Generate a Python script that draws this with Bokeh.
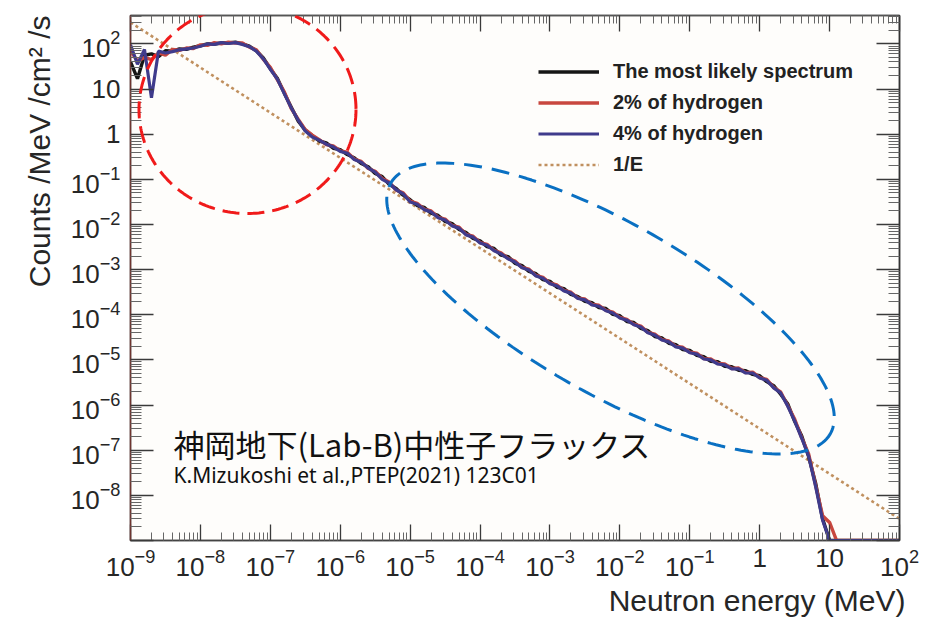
import numpy as np
from bokeh.plotting import figure
from bokeh.models import (Range1d, LogAxis, FixedTicker, Label, Legend, LegendItem,
                          PolyAnnotation, LogTickFormatter, Title)
from bokeh.embed import file_html
from bokeh.resources import INLINE

# ---------------- data ----------------
# bin centres, log10(E / MeV)
log10_energy = [
    -9.0, -8.9, -8.8, -8.7, -8.6, -8.5, -8.4, -8.3, -8.2, -8.1,
    -8.0, -7.9, -7.8, -7.7, -7.6, -7.5, -7.4, -7.3, -7.2, -7.1,
    -7.0, -6.9, -6.8, -6.7, -6.6, -6.5, -6.4, -6.3, -6.2, -6.1,
    -6.0, -5.9, -5.8, -5.7, -5.6, -5.5, -5.4, -5.3, -5.2, -5.1,
    -5.0, -4.9, -4.8, -4.7, -4.6, -4.5, -4.4, -4.3, -4.2, -4.1,
    -4.0, -3.9, -3.8, -3.7, -3.6, -3.5, -3.4, -3.3, -3.2, -3.1,
    -3.0, -2.9, -2.8, -2.7, -2.6, -2.5, -2.4, -2.3, -2.2, -2.1,
    -2.0, -1.9, -1.8, -1.7, -1.6, -1.5, -1.4, -1.3, -1.2, -1.1,
    -1.0, -0.9, -0.8, -0.7, -0.6, -0.5, -0.4, -0.3, -0.2, -0.1,
    0.0, 0.1, 0.2, 0.3, 0.4, 0.5, 0.6, 0.7, 0.8, 0.9,
    1.0, 1.1, 1.2, 1.3, 1.4, 1.5, 1.6, 1.7, 1.8, 1.9, 2.0,
]

# log10(flux / (MeV cm^2 s)); -9.0 marks empty bins drawn on the axis floor
log10_flux_likely = [
    1.60, 1.23, 1.75, 1.78, 1.72, 1.85, 1.84, 1.89, 1.88, 1.93,
    1.96, 2.00, 2.00, 2.02, 2.02, 2.04, 2.00, 1.95, 1.85, 1.69,
    1.45, 1.24, 0.91, 0.60, 0.29, 0.09, -0.03, -0.15, -0.19, -0.31,
    -0.34, -0.45, -0.52, -0.65, -0.72, -0.87, -0.94, -1.11, -1.20, -1.35,
    -1.45, -1.58, -1.62, -1.75, -1.80, -1.93, -1.98, -2.11, -2.18, -2.31,
    -2.36, -2.49, -2.53, -2.68, -2.71, -2.86, -2.91, -3.04, -3.09, -3.22,
    -3.26, -3.39, -3.42, -3.55, -3.60, -3.70, -3.73, -3.84, -3.86, -3.99,
    -4.02, -4.15, -4.17, -4.30, -4.35, -4.48, -4.51, -4.63, -4.66, -4.77,
    -4.79, -4.90, -4.93, -5.03, -5.04, -5.14, -5.15, -5.23, -5.24, -5.32,
    -5.35, -5.48, -5.57, -5.76, -5.97, -6.36, -6.68, -7.14, -7.73, -8.52,
    -9.0, -9.0, -9.0, -9.0, -9.0, -9.0, -9.0, -9.0, -9.0, -9.0, -9.0,
]

log10_flux_h2 = [
    1.85, 1.62, 1.70, 1.65, 1.80, 1.75, 1.88, 1.86, 1.91, 1.90,
    1.98, 1.97, 2.03, 2.00, 2.04, 2.02, 2.02, 1.93, 1.87, 1.66,
    1.48, 1.21, 0.94, 0.57, 0.33, 0.10, -0.02, -0.12, -0.23, -0.26,
    -0.37, -0.40, -0.55, -0.60, -0.76, -0.82, -0.98, -1.06, -1.24, -1.30,
    -1.48, -1.53, -1.66, -1.70, -1.84, -1.88, -2.02, -2.06, -2.22, -2.26,
    -2.40, -2.44, -2.57, -2.63, -2.75, -2.81, -2.95, -2.99, -3.13, -3.17,
    -3.30, -3.34, -3.46, -3.50, -3.63, -3.65, -3.77, -3.79, -3.90, -3.94,
    -4.06, -4.10, -4.21, -4.25, -4.39, -4.43, -4.55, -4.58, -4.70, -4.72,
    -4.83, -4.85, -4.97, -4.98, -5.08, -5.09, -5.19, -5.18, -5.28, -5.27,
    -5.39, -5.43, -5.61, -5.71, -6.01, -6.31, -6.72, -7.08, -7.78, -8.45,
    -8.6, -9.0, -9.0, -9.0, -9.0, -9.0, -9.0, -9.0, -9.0, -9.0, -9.0,
]

log10_flux_h4 = [
    1.98, 1.55, 1.88, 0.81, 1.84, 1.80, 1.83, 1.87, 1.89, 1.91,
    1.95, 2.00, 1.99, 2.03, 2.01, 2.03, 1.99, 1.94, 1.84, 1.67,
    1.44, 1.22, 0.90, 0.58, 0.31, 0.07, -0.06, -0.13, -0.22, -0.28,
    -0.38, -0.42, -0.56, -0.62, -0.75, -0.84, -1.00, -1.08, -1.23, -1.32,
    -1.50, -1.55, -1.67, -1.72, -1.85, -1.90, -2.03, -2.08, -2.23, -2.28,
    -2.41, -2.46, -2.58, -2.65, -2.76, -2.83, -2.96, -3.01, -3.14, -3.19,
    -3.31, -3.36, -3.47, -3.52, -3.64, -3.67, -3.78, -3.81, -3.91, -3.96,
    -4.07, -4.12, -4.22, -4.27, -4.40, -4.45, -4.56, -4.60, -4.71, -4.74,
    -4.84, -4.87, -4.98, -5.00, -5.09, -5.11, -5.20, -5.20, -5.29, -5.29,
    -5.40, -5.45, -5.62, -5.73, -6.02, -6.35, -6.73, -7.13, -7.80, -8.55,
    -9.0, -9.0, -9.0, -9.0, -9.0, -9.0, -9.0, -9.0, -9.0, -9.0, -9.0,
]

# 1/E reference line, end points
inv_e_energy = [1e-9, 1e2]
inv_e_flux = [3.0e2, 3.0e-9]

series_labels = ["The most likely spectrum", "2% of hydrogen", "4% of hydrogen", "1/E"]
x_title = "Neutron energy (MeV)"
y_title = "Counts /MeV /cm\u00b2 /s"

# ---------------- layout ----------------
W, H = 936, 625
FL, FR, FT, FB = 130, 899, 15, 540
LOG_X0, LOG_X1 = -9.0, 2.0
LOG_Y0, LOG_Y1 = -9.0, 2.63
PX_X = (FR - FL) / (LOG_X1 - LOG_X0)
PX_Y = (FB - FT) / (LOG_Y1 - LOG_Y0)

FONT = "Liberation Sans"
INK = "#262626"

p = figure(width=W, height=H, x_axis_type="log", y_axis_type="log",
           x_range=Range1d(10 ** LOG_X0, 10 ** LOG_X1),
           y_range=Range1d(10 ** LOG_Y0, 10 ** LOG_Y1),
           output_backend="svg", toolbar_location=None,
           min_border_left=FL, min_border_right=W - FR,
           min_border_top=FT, min_border_bottom=H - FB)
p.xgrid.visible = False
p.ygrid.visible = False
p.background_fill_color = "#fefdfb"
p.border_fill_color = "white"
p.outline_line_color = "#444444"
p.outline_line_width = 1.5

x_major = [10.0 ** k for k in range(-9, 3)]
x_minor = [m * 10.0 ** k for k in range(-9, 2) for m in range(2, 10)]
y_major = [10.0 ** k for k in range(-9, 3)]
y_minor = [m * 10.0 ** k for k in range(-9, 3) for m in range(2, 10)]


def style_axis(ax, major, minor, tick_in, line_color, labels):
    ax.ticker = FixedTicker(ticks=major, minor_ticks=minor)
    ax.major_tick_in = tick_in
    ax.major_tick_out = 0
    ax.minor_tick_in = tick_in // 2
    ax.minor_tick_out = 0
    ax.axis_line_color = line_color
    ax.axis_line_width = 1.5
    ax.major_tick_line_color = "#3a3a3a"
    ax.major_tick_line_width = 1.3
    ax.minor_tick_line_color = "#666666"
    ax.minor_tick_line_width = 1.0
    if labels:
        ax.formatter = LogTickFormatter()
        ax.major_label_text_font = FONT
        ax.major_label_text_font_size = "26px"
        ax.major_label_text_color = INK
    else:
        ax.major_label_text_font_size = "0px"
        ax.major_label_text_color = None
        ax.major_label_standoff = 0


xa = p.xaxis[0]
ya = p.yaxis[0]
style_axis(xa, x_major, x_minor, 16, "#444444", True)
style_axis(ya, y_major, y_minor, 23, "#6e3530", True)
xa.major_label_standoff = 8
ya.major_label_standoff = 10
xa.major_label_overrides = {1.0: "1", 10.0: "10"}
ya.major_label_overrides = {1.0: "1", 10.0: "10", y_major[0]: ""}

top_axis = LogAxis()
right_axis = LogAxis()
style_axis(top_axis, x_major, x_minor, 16, "#555555", False)
style_axis(right_axis, y_major, y_minor, 23, "#333333", False)
p.add_layout(top_axis, "above")
p.add_layout(right_axis, "right")

# axis titles, ROOT style: flush with the far end of each axis
p.add_layout(Title(text=x_title, align="right", text_font=FONT,
                   text_font_size="30px", text_font_style="normal",
                   text_color=INK, standoff=6, offset=-6), "below")
p.add_layout(Title(text=y_title, align="right", text_font=FONT,
                   text_font_size="30px", text_font_style="normal",
                   text_color=INK, standoff=24), "left")

# ---------------- curves ----------------
energy = 10.0 ** np.array(log10_energy)
r_inv = p.line(inv_e_energy, inv_e_flux, line_color="#c0905f", line_width=2.6,
               line_dash="3 3")
r_likely = p.line(energy, 10.0 ** np.array(log10_flux_likely), line_color="#151515",
                  line_width=3.4)
r_h2 = p.line(energy, 10.0 ** np.array(log10_flux_h2), line_color="#c8473f",
              line_width=3.4)
r_h4 = p.line(energy, 10.0 ** np.array(log10_flux_h4), line_color="#3f3b8c",
              line_width=3.2)

legend = Legend(items=[
    LegendItem(label=series_labels[0], renderers=[r_likely]),
    LegendItem(label=series_labels[1], renderers=[r_h2]),
    LegendItem(label=series_labels[2], renderers=[r_h4]),
    LegendItem(label=series_labels[3], renderers=[r_inv]),
], location=(408, 360))
legend.glyph_width = 61
legend.glyph_height = 31
legend.label_height = 31
legend.spacing = 0
legend.padding = 0
legend.margin = 0
legend.label_standoff = 14
legend.border_line_color = None
legend.background_fill_alpha = 0
legend.label_text_font = FONT
legend.label_text_font_style = "bold"
legend.label_text_font_size = "20px"
legend.label_text_color = "#222222"
p.add_layout(legend)


# ---------------- highlighted regions ----------------
def px_to_data(px, py):
    le = LOG_X0 + (np.asarray(px) - FL) / PX_X
    lf = LOG_Y1 - (np.asarray(py) - FT) / PX_Y
    return list(10.0 ** le), list(10.0 ** lf)


t = np.linspace(0, 2 * np.pi, 241)

# low-energy region (thermal/epithermal peak)
cx, cy, rx, ry = 247, 109, 108.5, 104
xs, ys = px_to_data(cx + rx * np.cos(t), cy + ry * np.sin(t))
p.add_layout(PolyAnnotation(xs=xs, ys=ys, fill_color=None, fill_alpha=0,
                            line_color="#f01a1a", line_alpha=1.0,
                            line_width=3, line_dash="17 8"))

# fast-neutron region (tilted)
cx, cy, a, b, th = 610, 308, 253, 85, np.radians(29.7)
ex = cx + a * np.cos(t) * np.cos(th) - b * np.sin(t) * np.sin(th)
ey = cy + a * np.cos(t) * np.sin(th) + b * np.sin(t) * np.cos(th)
xs, ys = px_to_data(ex, ey)
p.add_layout(PolyAnnotation(xs=xs, ys=ys, fill_color=None, fill_alpha=0,
                            line_color="#0a70c2", line_alpha=1.0,
                            line_width=3, line_dash="18 10"))

# ---------------- caption ----------------
cap_x = 10 ** (LOG_X0 + (173 - FL) / PX_X)
p.add_layout(Label(x=cap_x, y=10 ** (LOG_Y1 - (443 - FT) / PX_Y),
                   text="神岡地下(Lab-B)中性子フラックス", text_align="left",
                   text_baseline="middle", text_font="Noto Sans CJK JP",
                   text_font_size="31px", text_color="#111111"))
p.add_layout(Label(x=cap_x, y=10 ** (LOG_Y1 - (474 - FT) / PX_Y),
                   text="K.Mizukoshi et al.,PTEP(2021) 123C01", text_align="left",
                   text_baseline="middle", text_font="Noto Sans",
                   text_font_size="21px", text_color="#111111"))

open("out.html", "w").write(file_html(p, INLINE))
